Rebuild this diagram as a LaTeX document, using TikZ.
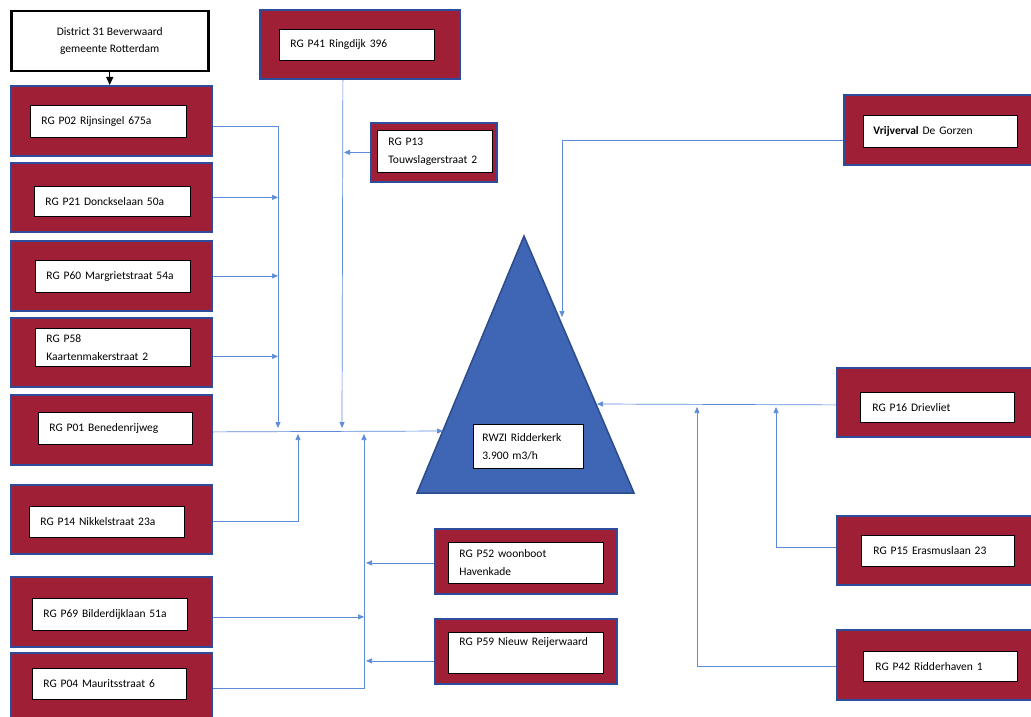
\documentclass[tikz,border=0pt]{standalone}
\usepackage{fontspec}
\setmainfont{Carlito}
\usetikzlibrary{arrows.meta}
\definecolor{maroon}{HTML}{9E1F36}
\definecolor{borderblue}{HTML}{2D4C9C}
\definecolor{tri}{HTML}{3F66B5}
\definecolor{triedge}{HTML}{2C4B8A}
\definecolor{lineblue}{HTML}{5B8BD9}
\tikzset{
  outer/.style={draw=borderblue, line width=1.8pt, fill=maroon, anchor=north west, inner sep=0pt},
  inbox/.style={draw=black, line width=0.8pt, fill=white, anchor=north west, inner xsep=11pt, inner ysep=0pt, align=left, font=\fontsize{11.5}{18}\selectfont},
  conn/.style={draw=lineblue, line width=0.7pt},
  arr/.style={conn, -{Triangle[length=6pt,width=5pt]}},
}
\begin{document}
\begin{tikzpicture}[x=1pt,y=-1pt]
\useasboundingbox (0,0) rectangle (1031,717);
\begin{scope}
\clip (0,0) rectangle (1031,717);
% District
\node[draw=black, line width=2.5pt, fill=white, anchor=north west, minimum width=197pt, minimum height=60pt, align=center, font=\fontsize{11.5}{17}\selectfont] (dist) at (10,10) {District 31 Beverwaard\\gemeente Rotterdam};
% left column
\node[outer, minimum width=201pt, minimum height=70pt] (p02) at (10,85) {};
\node[inbox, text width=134pt, minimum height=32pt] (p02t) at (30,105) {RG P02 Rijnsingel 675a};
\node[outer, minimum width=201pt, minimum height=69pt] (p21) at (10,162) {};
\node[inbox, text width=134pt, minimum height=30pt] (p21t) at (34,186) {RG P21 Donckselaan 50a};
\node[outer, minimum width=201pt, minimum height=70pt] (p60) at (10,240) {};
\node[inbox, text width=133pt, minimum height=32pt] (p60t) at (35,260) {RG P60 Margrietstraat 54a};
\node[outer, minimum width=201pt, minimum height=69pt] (p58) at (10,317) {};
\node[inbox, text width=133pt, minimum height=38pt] (p58t) at (35,328) {RG P58\\Kaartenmakerstraat 2};
\node[outer, minimum width=201pt, minimum height=70pt] (p01) at (10,394) {};
\node[inbox, text width=132pt, minimum height=32pt] (p01t) at (38,412) {RG P01 Benedenrijweg};
\node[outer, minimum width=201pt, minimum height=69pt] (p14) at (10,484) {};
\node[inbox, text width=133pt, minimum height=31pt] (p14t) at (29,506) {RG P14 Nikkelstraat 23a};
\node[outer, minimum width=201pt, minimum height=70pt] (p69) at (10,576) {};
\node[inbox, text width=133pt, minimum height=32pt] (p69t) at (32,598) {RG P69 Bilderdijklaan 51a};
\node[outer, minimum width=201pt, minimum height=70pt] (p04) at (10,652) {};
\node[inbox, text width=132pt, minimum height=31pt] (p04t) at (32,668) {RG P04 Mauritsstraat 6};
% top middle
\node[outer, minimum width=200pt, minimum height=69pt] (p41) at (259,9) {};
\node[inbox, text width=133pt, minimum height=31pt] (p41t) at (279,29) {RG P41 Ringdijk 396};
\node[outer, minimum width=126pt, minimum height=59pt] (p13) at (370,122) {};
\node[inbox, text width=93pt, minimum height=42pt] (p13t) at (377,130) {RG P13\\Touwslagerstraat 2};
% bottom middle
\node[outer, minimum width=182pt, minimum height=65pt] (p52) at (434,528) {};
\node[inbox, text width=133pt, minimum height=41pt] (p52t) at (448,542) {RG P52 woonboot\\Havenkade};
\node[outer, minimum width=182pt, minimum height=65pt] (p59) at (434,618) {};
\node[inbox, text width=133pt, minimum height=41pt] (p59t) at (448,632) {RG P59 Nieuw Reijerwaard\\\strut};
% right column
\node[outer, minimum width=200pt, minimum height=70pt] (vrij) at (843,94) {};
\node[inbox, inner xsep=10pt, text width=134pt, minimum height=32pt] (vrijt) at (863,115) {\textbf{Vrijverval} De Gorzen};
\node[outer, minimum width=200pt, minimum height=69pt] (p16) at (836,367) {};
\node[inbox, inner xsep=12pt, text width=130pt, minimum height=30pt] (p16t) at (860,392) {RG P16 Drievliet};
\node[outer, minimum width=200pt, minimum height=69pt] (p15) at (836,515) {};
\node[inbox, inner xsep=12pt, text width=129pt, minimum height=31pt] (p15t) at (861,535) {RG P15 Erasmuslaan 23};
\node[outer, minimum width=200pt, minimum height=70pt] (p42) at (836,629) {};
\node[inbox, inner xsep=12pt, text width=130pt, minimum height=30pt] (p42t) at (863,651) {RG P42 Ridderhaven 1};
% triangle
\draw[draw=triedge, line width=1.5pt, fill=tri, line join=miter] (524,236) -- (634,493) -- (417,493) -- cycle;
\node[inbox, inner xsep=9pt, text width=92pt, minimum height=44pt] (rwzi) at (473,424) {RWZI Ridderkerk\\3.900 m3/h};
\coordinate (tL) at (443,431);
\coordinate (tR) at (597,404);
\coordinate (tT) at (562,317);
% junction points
\coordinate (j1) at (278,428);
\coordinate (j2) at (342,428);
\coordinate (j3) at (298,434);
\coordinate (j4) at (364,434);
\coordinate (j5) at (697,407);
\coordinate (j6) at (776,407);
% connectors
\draw[-{Triangle[length=8pt,width=7pt]}, line width=1.2pt, black] (dist.south) -- (p02.north -| dist.south);
\draw[arr] ([yshift=-5pt]p02.east) -| (j1);
\draw[arr] (p21.east) -- (p21.east -| j1);
\draw[arr] (p60.east) -- (p60.east -| j1);
\draw[arr] ([yshift=-4pt]p58.east) -- ([yshift=-4pt]p58.east -| j1);
\draw[arr] ([xshift=-17pt]p41.south) -- (j2);
\draw[arr] (p13.west) -- ([xshift=2pt]p13.west -| j2);
\draw[arr] ([yshift=-2pt]p01.east) -- (tL);
\draw[arr] ([yshift=-1.5pt]p14.east) -| (j3);
\draw[arr] (p04.east) -| (j4);
\draw[arr] ([yshift=-1.5pt]p52.west) -- ([xshift=2pt,yshift=-1.5pt]p52.west -| j4);
\draw[arr] ([yshift=-5pt]p69.east) -- ([yshift=-5pt]p69.east -| j4);
\draw[arr] ([yshift=-9.5pt]p59.west) -- ([xshift=2pt,yshift=-9.5pt]p59.west -| j4);
\draw[arr] ([yshift=-10pt]vrij.west) -| (tT);
\draw[arr] ([yshift=-2.5pt]p16.west) -- (tR);
\draw[arr] ([yshift=3.5pt]p15.west) -| (j6);
\draw[arr] ([yshift=-1pt]p42.west) -| (j5);
\end{scope}
\end{tikzpicture}
\end{document}
